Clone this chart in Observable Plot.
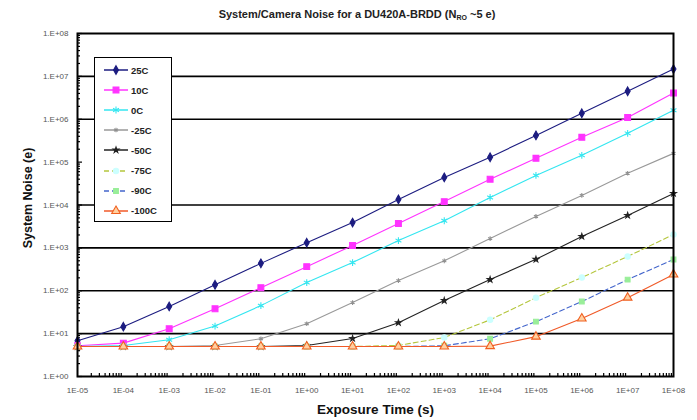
<!DOCTYPE html>
<html><head><meta charset="utf-8">
<script src="https://cdn.jsdelivr.net/npm/d3@7"></script>
<script src="https://cdn.jsdelivr.net/npm/@observablehq/plot@0.6"></script>
<style>
body{margin:0;background:#fff;}
#wrap{position:relative;width:697px;height:420px;font-family:"Liberation Sans",Arial,sans-serif;}
#legend{position:absolute;left:94px;top:57px;width:78px;height:165px;border:1.5px solid #000;background:#fff;box-sizing:border-box;}
.row{position:absolute;left:0;height:14px;display:flex;align-items:center;}
.row span{font-size:9.5px;font-weight:bold;color:#222;margin-left:2px;}
</style></head><body><div id="wrap"><div id="legend"></div></div>
<script>
const times = [1e-5,1e-4,1e-3,1e-2,1e-1,1e0,1e1,1e2,1e3,1e4,1e5,1e6,1e7,1e8];
const tempLabels = ["25C","10C","0C","-25C","-50C","-75C","-90C","-100C"];
const noise25C  = [6.8,14.5,43,138,435,1320,3900,13500,44000,130000,420000,1380000,4500000,14800000];
const noise10C  = [5.2,6,13,38,118,365,1140,3700,12000,40000,123000,380000,1100000,4100000];
const noise0C   = [5.0,5.3,7.2,15,45,155,455,1480,4300,15000,49000,144000,470000,1620000];
const noiseM25C = [5.0,5.0,5.0,5.3,7.6,17,53,173,500,1650,5400,16700,55000,160000];
const noiseM50C = [5.0,5.0,5.0,5.0,5.0,5.3,7.7,18,59,182,540,1850,5700,18600];
const noiseM75C = [5.0,5.0,5.0,5.0,5.0,5.0,5.0,5.3,8.1,21,69,204,630,2050];
const noiseM90C = [5.0,5.0,5.0,5.0,5.0,5.0,5.0,5.0,5.2,7.6,19,56,182,535];
const noiseM100C= [5.0,5.0,5.0,5.0,5.0,5.0,5.0,5.0,5.0,5.1,8.5,22.5,69,240];
const xTickLabels = ["1E-05","1E-04","1E-03","1E-02","1E-01","1E+00","1E+01","1E+02","1E+03","1E+04","1E+05","1E+06","1E+07","1E+08"];
const yTickLabels = ["1.E+00","1.E+01","1.E+02","1.E+03","1.E+04","1.E+05","1.E+06","1.E+07","1.E+08"];
const gridValues = [1e1,1e2,1e3,1e4,1e6,1e7];
const titleText = "System/Camera Noise for a DU420A-BRDD (N";
const titleSub = "RO";
const titleEnd = " ~5 e)";

const seriesValues = [noise25C,noise10C,noise0C,noiseM25C,noiseM50C,noiseM75C,noiseM90C,noiseM100C];
const styles = [
  {line:"#1c1c80", dash:null, symbol:"diamond", fill:"#1c1c80", stroke:"#1c1c80", r:2.6},
  {line:"#ff33ff", dash:null, symbol:"square", fill:"#ff33ff", stroke:"#ff33ff", r:3.3},
  {line:"#33e6f0", dash:null, symbol:"asterisk", fill:"none", stroke:"#33e6f0", r:3.2},
  {line:"#999999", dash:null, symbol:"asterisk", fill:"none", stroke:"#909090", r:2.2},
  {line:"#222222", dash:null, symbol:"star", fill:"#222", stroke:"#222", r:1.8},
  {line:"#b4c63c", dash:"5,3", symbol:"circle", fill:"#ccffff", stroke:"#ccffff", r:2.7},
  {line:"#4466cc", dash:"5,3", symbol:"square", fill:"#99ee99", stroke:"#99ee99", r:2.7},
  {line:"#f05a28", dash:null, symbol:"triangle", fill:"#ffd0a0", stroke:"#f06020", r:3.2}
];

const rows = [];
seriesValues.forEach((vals, si) => vals.forEach((v, i) => rows.push({s: tempLabels[si], t: times[i], v})));

const minorX = [], minorY = [];
for (let e = -5; e < 8; e++) for (let m = 2; m <= 9; m++) minorX.push(m * 10 ** e);
for (let e = 0; e < 8; e++) for (let m = 2; m <= 9; m++) minorY.push(m * 10 ** e);
const decadesX = times;
const decadesY = yTickLabels.map((_, i) => 10 ** i);

const marks = [
  Plot.ruleY(gridValues, {stroke:"#000", strokeWidth:1.6}),
  Plot.axisY({ticks: minorY, tickSize: -3, tickFormat: () => "", label: null, strokeWidth: 1.2}),
  Plot.axisY({ticks: decadesY, tickSize: -5, tickFormat: () => "", label: null, strokeWidth: 1.2}),
  Plot.axisX({ticks: minorX, tickSize: -3, tickFormat: () => "", label: null, strokeWidth: 1.2}),
  Plot.axisY({ticks: decadesY, tickSize: 0, tickPadding: 9, fontSize: 8, fill: "#555",
    tickFormat: d => yTickLabels[Math.round(Math.log10(d))], label: null}),
  Plot.axisX({ticks: decadesX, tickSize: 0, tickPadding: 11, fontSize: 8, fill: "#555",
    tickFormat: d => xTickLabels[Math.round(Math.log10(d)) + 5], label: null}),
];
tempLabels.forEach((lab, si) => {
  const st = styles[si];
  const data = rows.filter(d => d.s === lab);
  marks.push(Plot.line(data, {x:"t", y:"v", stroke: st.line, strokeWidth: 1.1, strokeDasharray: st.dash}));
});
tempLabels.forEach((lab, si) => {
  const st = styles[si];
  const data = rows.filter(d => d.s === lab);
  marks.push(Plot.dot(data, {x:"t", y:"v", symbol: () => st.symbol, fill: st.fill, stroke: st.stroke, r: st.r, strokeWidth: 1.1}));
});
marks.push(Plot.frame({stroke:"#000", strokeWidth:2}));
marks.push(Plot.text(["Exposure Time (s)"], {frameAnchor:"bottom", dy: 37, fontSize: 13.5, fontWeight:"bold", fill:"#111"}));
marks.push(Plot.text(["System Noise (e)"], {frameAnchor:"left", dx: -50, dy: -7, rotate: -90, textAnchor:"middle", lineAnchor:"middle", fontSize: 12.5, fontWeight:"bold", fill:"#111"}));

const chart = Plot.plot({
  width: 697, height: 420,
  marginLeft: 77, marginRight: 24, marginTop: 33, marginBottom: 44,
  style: {fontFamily: '"Liberation Sans", Arial, sans-serif', background: "#fff"},
  x: {type: "log", domain: [1e-5, 1e8], axis: null},
  y: {type: "log", domain: [1, 1e8], axis: null},
  marks
});
const wrap = document.getElementById("wrap");
wrap.insertBefore(chart, wrap.firstChild);

// title as real svg text with subscript
const svg = d3.select(chart);
const t = svg.append("text").attr("x", 357).attr("y", 18).attr("text-anchor", "middle")
  .attr("font-size", 11).attr("font-weight", "bold").attr("fill", "#222")
  .attr("font-family", '"Liberation Sans", Arial, sans-serif');
t.append("tspan").text(titleText);
t.append("tspan").attr("font-size", 7).attr("dy", 2).text(titleSub);
t.append("tspan").attr("dy", -2).text(titleEnd);

// legend
const legend = d3.select("#legend");
const symMap = {diamond: d3.symbolDiamond, square: d3.symbolSquare, asterisk: d3.symbolAsterisk, star: d3.symbolStar, circle: d3.symbolCircle, triangle: d3.symbolTriangle};
tempLabels.forEach((lab, i) => {
  const st = styles[i];
  const row = legend.append("div").attr("class", "row").style("top", (5 + i * 20.1) + "px").style("left", "8px");
  const s = row.append("svg").attr("width", 26).attr("height", 14);
  s.append("line").attr("x1", 1).attr("x2", 25).attr("y1", 7).attr("y2", 7)
    .attr("stroke", st.line).attr("stroke-width", 1.5).attr("stroke-dasharray", st.dash);
  s.append("path").attr("transform", "translate(13,7)")
    .attr("d", d3.symbol(symMap[st.symbol], Math.PI * st.r * st.r)())
    .attr("fill", st.fill).attr("stroke", st.stroke).attr("stroke-width", 1.1);
  row.append("span").text(lab);
});
</script></body></html>
